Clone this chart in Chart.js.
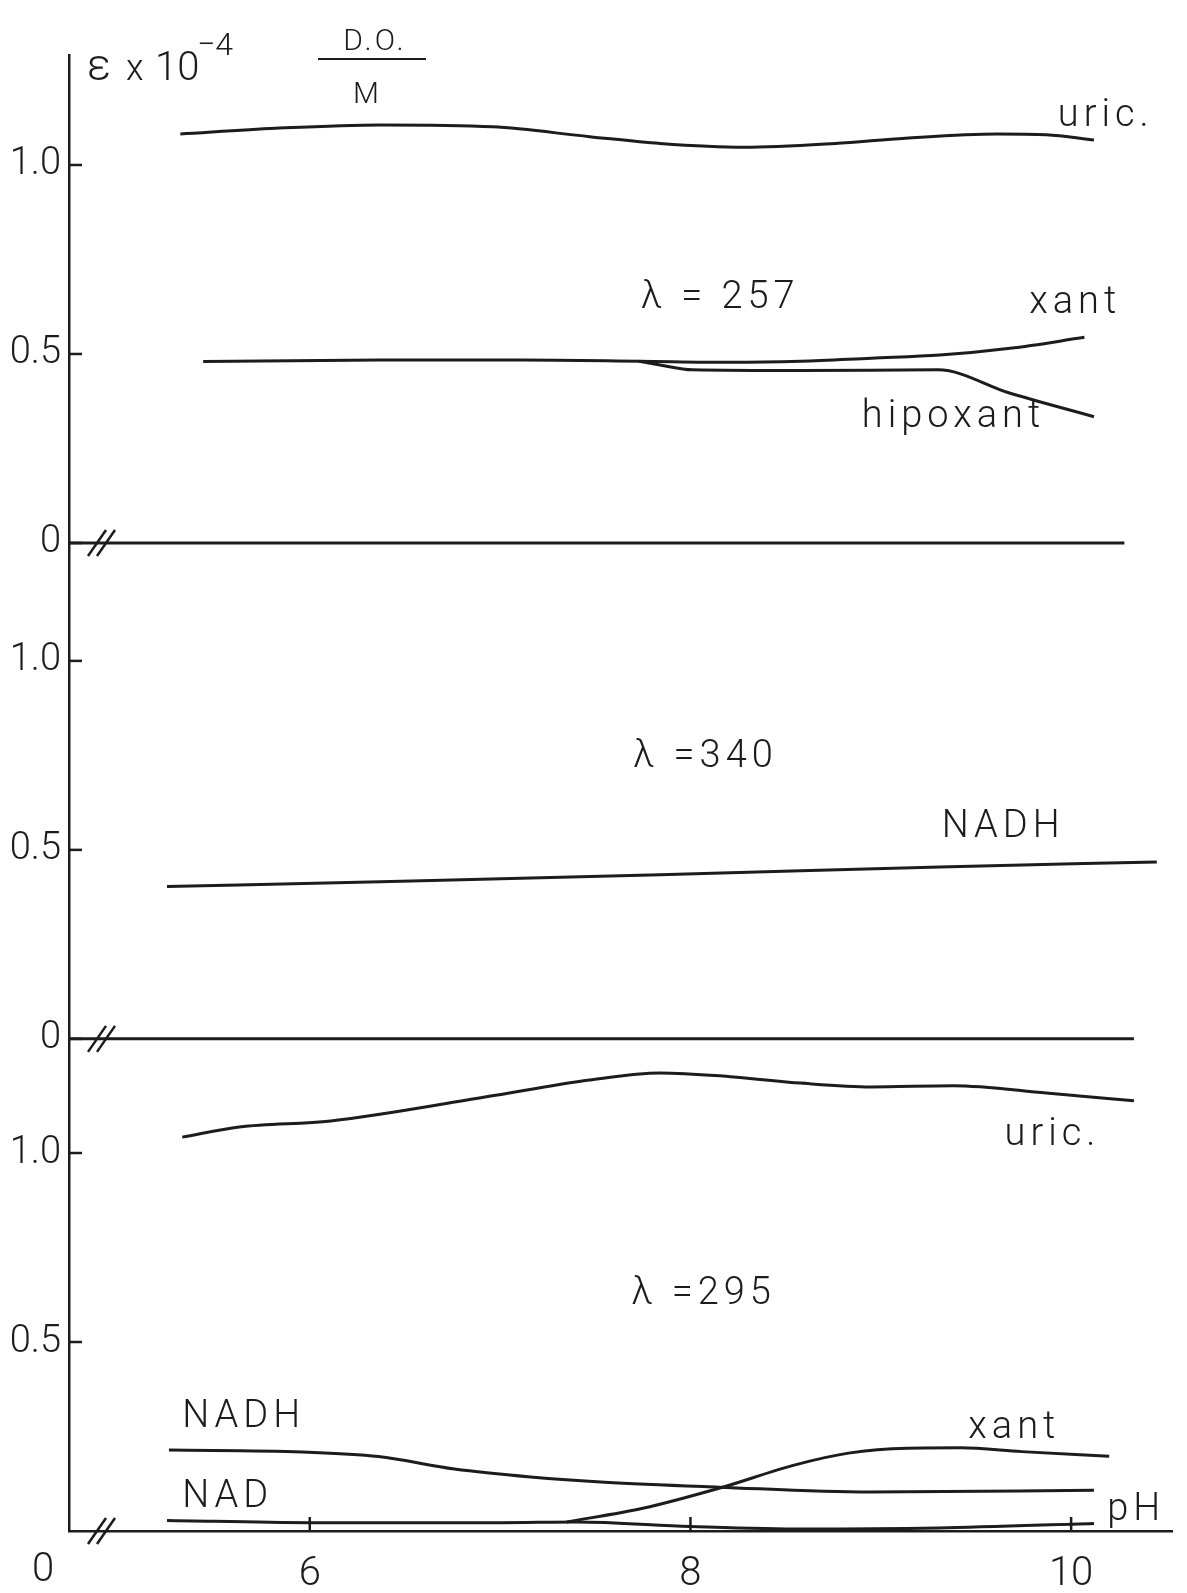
<!DOCTYPE html>
<html>
<head>
<meta charset="utf-8">
<script src="https://cdn.jsdelivr.net/npm/chart.js@4.4.1/dist/chart.umd.min.js"></script>
<style>
  body { margin: 0; background: #fff; }
  #wrap { width: 1187px; height: 1593px; }
</style>
</head>
<body>
<div id="wrap"><canvas id="phChart" width="1187" height="1593"></canvas></div>
<script>
// --- data: pH on x, epsilon x 10^-4 on y (per panel) ---
// lambda = 257
var uric257Ph  = [5.32, 5.82, 6.37, 6.96, 7.47, 7.84, 8.28, 8.76, 9.13, 9.61, 9.87, 10.12];
var uric257Eps = [1.082, 1.097, 1.106, 1.101, 1.075, 1.057, 1.047, 1.057, 1.071, 1.082, 1.080, 1.066];
var xant257Ph  = [5.44, 6.37, 7.11, 7.73, 8.21, 8.58, 8.95, 9.31, 9.68, 10.07];
var xant257Eps = [0.480, 0.484, 0.484, 0.481, 0.478, 0.481, 0.489, 0.497, 0.515, 0.544];
var hipo257Ph  = [7.73, 7.84, 8.01, 8.58, 9.30, 9.68, 10.12];
var hipo257Eps = [0.481, 0.471, 0.458, 0.456, 0.458, 0.396, 0.334];
// lambda = 340
var nadh340Ph  = [5.25, 6.37, 7.84, 9.31, 10.45];
var nadh340Eps = [0.403, 0.416, 0.434, 0.455, 0.468];
// lambda = 295
var uric295Ph  = [5.33, 5.63, 6.11, 6.92, 7.47, 7.84, 8.21, 8.58, 8.95, 9.38, 9.87, 10.33];
var uric295Eps = [1.042, 1.069, 1.085, 1.148, 1.193, 1.212, 1.202, 1.185, 1.175, 1.178, 1.159, 1.138];
var nadh295Ph  = [5.26, 5.96, 6.36, 6.76, 7.16, 7.55, 8.15, 8.94, 10.12];
var nadh295Eps = [0.214, 0.209, 0.197, 0.164, 0.143, 0.129, 0.116, 0.103, 0.108];
var nad295Ph   = [5.25, 6.0, 7.0, 7.4, 8.0, 8.6, 9.3, 10.12];
var nad295Eps  = [0.028, 0.022, 0.022, 0.024, 0.012, 0.005, 0.008, 0.020];
var xant295Ph  = [7.35, 7.75, 8.15, 8.55, 8.83, 9.14, 9.42, 9.74, 10.2];
var xant295Eps = [0.024, 0.060, 0.113, 0.175, 0.206, 0.219, 0.220, 0.210, 0.198];

// zero lines of the two upper panels (end pH)
var zeroLineEnd = [10.28, 10.33];

// ticks
var xTickValues = [6, 8, 10];
var xTickLabels = ['6', '8', '10'];
var yTickLabels = ['0.5', '1.0', '0', '0.5', '1.0', '0', '0.5', '1.0'];

// panel stacking on the shared y axis
var base257 = 2.614, base340 = 1.302, base295 = 0;
var yTickValues = [0.5, 1.0, 0, 0.5, 1.0, 0, 0.5, 1.0].map(function(v, i) {
    return v + (i < 2 ? base295 : i < 5 ? base340 : base257);
});

var ink = '#1c1c1c';

function pts(xs, ys, base) {
    return xs.map(function(x, i) { return { x: x, y: ys[i] + base }; });
}

function curve(data) {
    return { data: data, borderColor: ink, borderWidth: 3, pointRadius: 0,
             cubicInterpolationMode: 'monotone', fill: false, clip: false };
}

// text written on the chart, placed in data units
var notes = [
    { t: 'uric.',    x: 9.93,  y: base257 + 1.103 },
    { t: 'λ = 257',  x: 7.74,  y: base257 + 0.621 },
    { t: 'xant',     x: 9.78,  y: base257 + 0.608 },
    { t: 'hipoxant', x: 8.90,  y: base257 + 0.307 },
    { t: 'λ =340',   x: 7.70,  y: base340 + 0.719 },
    { t: 'NADH',     x: 9.32,  y: base340 + 0.534 },
    { t: 'uric.',    x: 9.65,  y: base295 + 1.021 },
    { t: 'λ =295',   x: 7.69,  y: base295 + 0.600 },
    { t: 'NADH',     x: 5.33,  y: base295 + 0.275 },
    { t: 'NAD',      x: 5.33,  y: base295 + 0.064 },
    { t: 'xant',     x: 9.46,  y: base295 + 0.246 },
    { t: 'pH',       x: 10.19, y: base295 + 0.029 }
];

var decor = {
    id: 'decor',
    afterDraw: function(chart) {
        var ctx = chart.ctx, xs = chart.scales.x, ys = chart.scales.y;
        var left = xs.left, bottom = ys.bottom;
        ctx.save();
        ctx.strokeStyle = ink;
        ctx.fillStyle = ink;
        ctx.lineWidth = 2.5;
        // inward tick marks
        yTickValues.forEach(function(v) {
            var p = ys.getPixelForValue(v);
            ctx.beginPath(); ctx.moveTo(left, p); ctx.lineTo(left + 13, p); ctx.stroke();
        });
        xTickValues.forEach(function(v) {
            var p = xs.getPixelForValue(v);
            ctx.beginPath(); ctx.moveTo(p, bottom); ctx.lineTo(p, bottom - 14); ctx.stroke();
        });
        // axis break marks
        [base257, base340, base295].forEach(function(b) {
            var p = ys.getPixelForValue(b);
            for (var k = 0; k < 2; k++) {
                var x0 = left + 19 + k * 9;
                ctx.beginPath(); ctx.moveTo(x0, p + 13); ctx.lineTo(x0 + 18, p - 13); ctx.stroke();
            }
        });
        // labels
        ctx.font = '300 38px Roboto, "DejaVu Sans", sans-serif';
        ctx.letterSpacing = '5px';
        ctx.textAlign = 'left';
        ctx.textBaseline = 'alphabetic';
        notes.forEach(function(n) {
            ctx.fillText(n.t, xs.getPixelForValue(n.x), ys.getPixelForValue(n.y));
        });
        ctx.letterSpacing = '0px';
        // origin
        ctx.font = '300 40px Roboto, sans-serif';
        ctx.textAlign = 'center';
        ctx.textBaseline = 'middle';
        ctx.fillText('0', left - 26, bottom + 40);
        // y axis title
        ctx.textAlign = 'left';
        ctx.textBaseline = 'alphabetic';
        ctx.font = '300 44px Roboto, sans-serif';
        ctx.fillText('ε', left + 18, 80);
        ctx.font = '300 36px Roboto, sans-serif';
        ctx.fillText('x', left + 57, 80);
        ctx.font = '300 40px Roboto, sans-serif';
        ctx.fillText('10', left + 86, 80);
        ctx.font = '300 32px Roboto, sans-serif';
        ctx.fillText('−4', left + 128, 55);
        ctx.font = '300 30px Roboto, sans-serif';
        ctx.textAlign = 'center';
        ctx.letterSpacing = '3px';
        ctx.fillText('D.O.', left + 306, 50);
        ctx.letterSpacing = '0px';
        ctx.fillText('M', left + 297, 103);
        ctx.lineWidth = 2;
        ctx.beginPath(); ctx.moveTo(left + 249, 59); ctx.lineTo(left + 357, 59); ctx.stroke();
        ctx.restore();
    }
};

document.addEventListener('DOMContentLoaded', function() {
    var ctx = document.getElementById('phChart').getContext('2d');
    var phChart = new Chart(ctx, {
        type: 'line',
        data: {
            datasets: [
                curve(pts(uric257Ph, uric257Eps, base257)),
                curve(pts(xant257Ph, xant257Eps, base257)),
                curve(pts(hipo257Ph, hipo257Eps, base257)),
                curve(pts(nadh340Ph, nadh340Eps, base340)),
                curve(pts(uric295Ph, uric295Eps, base295)),
                curve(pts(nadh295Ph, nadh295Eps, base295)),
                curve(pts(nad295Ph, nad295Eps, base295)),
                curve(pts(xant295Ph, xant295Eps, base295)),
                curve([{ x: 4.735, y: base257 }, { x: zeroLineEnd[0], y: base257 }]),
                curve([{ x: 4.735, y: base340 }, { x: zeroLineEnd[1], y: base340 }])
            ]
        },
        options: {
            responsive: false,
            animation: false,
            events: [],
            layout: { padding: { top: 55, right: 15, left: 0, bottom: 0 } },
            plugins: { legend: { display: false }, tooltip: { enabled: false } },
            scales: {
                x: {
                    type: 'linear',
                    min: 4.735,
                    max: 10.53,
                    afterFit: function(s) { s.height = 62; },
                    afterBuildTicks: function(s) {
                        s.ticks = xTickValues.map(function(v) { return { value: v }; });
                    },
                    grid: { drawOnChartArea: false, drawTicks: false },
                    border: { color: ink, width: 2.5 },
                    ticks: {
                        padding: 20,
                        color: ink,
                        font: { family: 'Roboto', size: 40, weight: '300' },
                        maxRotation: 0,
                        callback: function(v, i) { return xTickLabels[i]; }
                    }
                },
                y: {
                    type: 'linear',
                    min: 0,
                    max: 3.905,
                    afterFit: function(s) { s.width = 69; },
                    afterBuildTicks: function(s) {
                        s.ticks = yTickValues.map(function(v) { return { value: v }; });
                    },
                    grid: { drawOnChartArea: false, drawTicks: false },
                    border: { color: ink, width: 2.5 },
                    ticks: {
                        padding: 8,
                        color: ink,
                        font: { family: 'Roboto', size: 38, weight: '300' },
                        callback: function(v, i) { return yTickLabels[i]; }
                    }
                }
            }
        },
        plugins: [decor]
    });
});
</script>
</body>
</html>
